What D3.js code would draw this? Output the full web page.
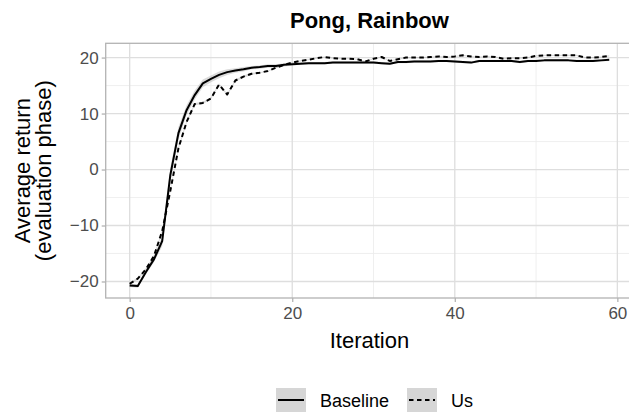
<!DOCTYPE html>
<html>
<head>
<meta charset="utf-8">
<script src="https://cdn.jsdelivr.net/npm/d3@7"></script>
<style>
  html, body { margin: 0; padding: 0; background: #fff; }
  svg { display: block; font-family: "Liberation Sans", Arial, sans-serif; }
</style>
</head>
<body>
<svg id="chart" width="629" height="415"></svg>
<script>
const title = "Pong, Rainbow";
const xLabel = "Iteration";
const yLabelLines = ["Average return", "(evaluation phase)"];
const seriesNames = ["Baseline", "Us"];
const iterations = d3.range(0, 60);
const baseline = [
  -20.7, -20.8, -18.3, -16.0, -12.8, -1.0, 6.5, 10.6, 13.3, 15.4,
  16.2, 16.9, 17.4, 17.7, 17.9, 18.2, 18.3, 18.5, 18.5, 18.7,
  18.8, 18.9, 19.0, 19.0, 19.0, 19.1, 19.1, 19.1, 19.1, 19.1,
  19.1, 19.0, 18.9, 19.2, 19.2, 19.3, 19.3, 19.3, 19.4, 19.4,
  19.3, 19.2, 19.1, 19.4, 19.4, 19.4, 19.4, 19.4, 19.2, 19.4,
  19.4, 19.5, 19.5, 19.5, 19.5, 19.4, 19.4, 19.4, 19.5, 19.6
];
const us = [
  -20.4, -19.5, -17.8, -15.4, -11.0, -3.8, 3.8, 8.5, 11.7, 11.9,
  12.7, 15.2, 13.4, 15.9, 16.6, 17.1, 17.3, 17.6, 18.2, 18.7,
  19.1, 19.4, 19.6, 19.9, 20.1, 19.9, 19.8, 19.8, 19.7, 19.3,
  19.8, 20.1, 19.4, 19.7, 20.0, 20.0, 20.0, 20.1, 20.2, 20.1,
  20.2, 20.4, 20.2, 20.1, 20.2, 20.1, 19.8, 19.9, 19.9, 20.0,
  20.3, 20.4, 20.4, 20.4, 20.4, 20.4, 20.0, 20.0, 20.1, 20.3
];
// half-width of the grey confidence band
const baselineBand = [
  0.3, 0.3, 0.4, 0.5, 0.9, 1.3, 1.1, 0.9, 0.8, 0.7,
  0.6, 0.6, 0.5, 0.4, 0.4, 0.3, 0.3, 0.3, 0.3, 0.3,
  0.2, 0.2, 0.2, 0.2, 0.2, 0.2, 0.2, 0.2, 0.2, 0.2,
  0.2, 0.2, 0.2, 0.2, 0.2, 0.2, 0.2, 0.2, 0.2, 0.2,
  0.2, 0.2, 0.2, 0.2, 0.2, 0.2, 0.2, 0.2, 0.2, 0.2,
  0.2, 0.2, 0.2, 0.2, 0.2, 0.2, 0.2, 0.2, 0.2, 0.2
];
const usBand = [
  0.2, 0.2, 0.2, 0.2, 0.3, 0.3, 0.3, 0.3, 0.2, 0.2,
  0.2, 0.2, 0.2, 0.2, 0.2, 0.2, 0.1, 0.1, 0.1, 0.1,
  0.1, 0.1, 0.1, 0.1, 0.1, 0.1, 0.1, 0.1, 0.1, 0.1,
  0.1, 0.1, 0.1, 0.1, 0.1, 0.1, 0.1, 0.1, 0.1, 0.1,
  0.1, 0.1, 0.1, 0.1, 0.1, 0.1, 0.1, 0.1, 0.1, 0.1,
  0.1, 0.1, 0.1, 0.1, 0.1, 0.1, 0.1, 0.1, 0.1, 0.1
];
const xTicks = [0, 20, 40, 60];
const xMinor = [10, 30, 50];
const yTicks = [-20, -10, 0, 10, 20];
const yMinor = [-15, -5, 5, 15];

const svg = d3.select("#chart");
const panel = { left: 105.7, top: 43.3, right: 633.2, bottom: 298 };

const x = d3.scaleLinear().domain([-2.95, 61.95]).range([panel.left, panel.right]);
const y = d3.scaleLinear().domain([-22.95, 22.55]).range([panel.bottom, panel.top]);

const g = svg.append("g");

// minor grid
g.selectAll(".xminor").data(xMinor).enter().append("line")
  .attr("x1", d => x(d)).attr("x2", d => x(d))
  .attr("y1", panel.top).attr("y2", panel.bottom)
  .attr("stroke", "#ebebeb").attr("stroke-width", 0.8);
g.selectAll(".yminor").data(yMinor).enter().append("line")
  .attr("y1", d => y(d)).attr("y2", d => y(d))
  .attr("x1", panel.left).attr("x2", panel.right)
  .attr("stroke", "#ebebeb").attr("stroke-width", 0.8);
// major grid
g.selectAll(".xmajor").data(xTicks).enter().append("line")
  .attr("x1", d => x(d)).attr("x2", d => x(d))
  .attr("y1", panel.top).attr("y2", panel.bottom)
  .attr("stroke", "#dedede").attr("stroke-width", 1.3);
g.selectAll(".ymajor").data(yTicks).enter().append("line")
  .attr("y1", d => y(d)).attr("y2", d => y(d))
  .attr("x1", panel.left).attr("x2", panel.right)
  .attr("stroke", "#dedede").attr("stroke-width", 1.3);

const series = [
  { name: seriesNames[0], values: baseline, band: baselineBand, dash: null },
  { name: seriesNames[1], values: us, band: usBand, dash: "4.5,3.5" }
];

const area = d3.area()
  .x((d, i) => x(iterations[i]))
  .y0(d => y(d[0] - d[1]))
  .y1(d => y(d[0] + d[1]));
const line = d3.line()
  .x((d, i) => x(iterations[i]))
  .y(d => y(d));

series.forEach(s => {
  g.append("path")
    .datum(s.values.map((v, i) => [v, s.band[i]]))
    .attr("d", area)
    .attr("fill", "#999999").attr("fill-opacity", 0.35);
});
series.forEach(s => {
  g.append("path")
    .datum(s.values)
    .attr("d", line)
    .attr("fill", "none").attr("stroke", "#000")
    .attr("stroke-width", 2)
    .attr("stroke-linejoin", "round")
    .attr("stroke-dasharray", s.dash);
});

// panel border
g.append("rect")
  .attr("x", panel.left).attr("y", panel.top)
  .attr("width", panel.right - panel.left).attr("height", panel.bottom - panel.top)
  .attr("fill", "none").attr("stroke", "#b3b3b3").attr("stroke-width", 1.3);

// axes
const xAxis = d3.axisBottom(x).tickValues(xTicks).tickSize(4).tickPadding(5).tickFormat(d3.format("d"));
const yAxis = d3.axisLeft(y).tickValues(yTicks).tickSize(4).tickPadding(3)
  .tickFormat(d => (d < 0 ? "\u2212" + Math.abs(d) : String(d)));

const gx = svg.append("g").attr("transform", `translate(0,${panel.bottom})`).call(xAxis);
const gy = svg.append("g").attr("transform", `translate(${panel.left},0)`).call(yAxis);
[gx, gy].forEach(a => {
  a.select(".domain").remove();
  a.selectAll(".tick line").attr("stroke", "#b3b3b3").attr("stroke-width", 1.3);
  a.selectAll(".tick text").attr("fill", "#4d4d4d")
    .style("font-size", "17px").style("font-family", "Liberation Sans, Arial, sans-serif");
});

// title
svg.append("text")
  .attr("x", (panel.left + panel.right) / 2).attr("y", 28)
  .attr("text-anchor", "middle")
  .style("font-size", "22px").style("font-weight", "bold")
  .text(title);

// x label
svg.append("text")
  .attr("x", (panel.left + panel.right) / 2).attr("y", 348)
  .attr("text-anchor", "middle")
  .style("font-size", "22px")
  .text(xLabel);

// y label
const yl = svg.append("text")
  .attr("transform", `translate(30,${(panel.top + panel.bottom) / 2}) rotate(-90)`)
  .attr("text-anchor", "middle")
  .style("font-size", "22px");
yLabelLines.forEach((t, i) => {
  yl.append("tspan").attr("x", 0).attr("dy", i === 0 ? 0 : 21).text(t);
});

// legend
const legendItems = [
  { s: series[0], boxX: 276, textX: 320 },
  { s: series[1], boxX: 407, textX: 451 }
];
const legY = 388, legH = 24, legW = 30;
legendItems.forEach(it => {
  svg.append("rect")
    .attr("x", it.boxX).attr("y", legY)
    .attr("width", legW).attr("height", legH)
    .attr("fill", "#d6d6d6");
  svg.append("line")
    .attr("x1", it.boxX + 2).attr("x2", it.boxX + legW - 2)
    .attr("y1", legY + legH / 2).attr("y2", legY + legH / 2)
    .attr("stroke", "#000").attr("stroke-width", 2)
    .attr("stroke-dasharray", it.s.dash);
  svg.append("text")
    .attr("x", it.textX).attr("y", legY + legH / 2 + 6.5)
    .style("font-size", "18px")
    .text(it.s.name);
});
</script>
</body>
</html>
